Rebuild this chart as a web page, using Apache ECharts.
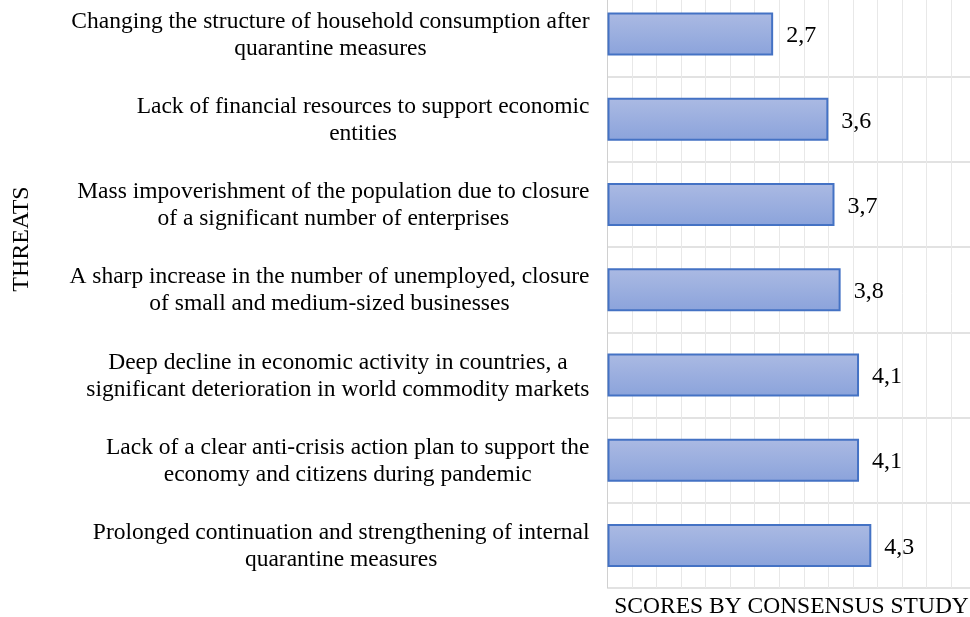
<!DOCTYPE html>
<html>
<head>
<meta charset="utf-8">
<style>html,body{margin:0;padding:0;background:#fff;}#chart{width:970px;height:617px;}</style>
<script src="https://cdn.jsdelivr.net/npm/echarts@6/dist/echarts.min.js"></script>
</head>
<body>
<div id="chart"></div>
<script>
const categories = [
  "Changing the structure of household consumption after\nquarantine measures",
  "Lack of financial resources to support economic\nentities",
  "Mass impoverishment of the population due to closure\nof a significant number of enterprises",
  "A sharp increase in the number of unemployed, closure\nof small and medium-sized businesses",
  "Deep decline in economic activity in countries, a\nsignificant deterioration in world commodity markets",
  "Lack of a clear anti-crisis action plan to support the\neconomy and citizens during pandemic",
  "Prolonged continuation and strengthening of internal\nquarantine measures"
];
const scores = [2.7, 3.6, 3.7, 3.8, 4.1, 4.1, 4.3];
const yAxisTitle = "THREATS";
const xAxisTitle = "SCORES BY CONSENSUS STUDY";

const FONT = "'Liberation Serif', 'Times New Roman', serif";
const chart = echarts.init(document.getElementById('chart'));
chart.setOption({
  animation: false,
  backgroundColor: '#ffffff',
  grid: { left: 607.5, right: -5.6, top: -8.5, bottom: 29, containLabel: false, outerBoundsMode: 'none' },
  xAxis: {
    type: 'value', min: 0, max: 6, interval: 0.4,
    name: xAxisTitle, nameLocation: 'middle', nameGap: 7,
    nameTextStyle: { fontFamily: FONT, fontSize: 23.5, color: '#000' },
    axisLine: { show: false }, axisTick: { show: false }, axisLabel: { show: false },
    splitLine: { show: true, lineStyle: { color: '#e8e8e8', width: 1 } }
  },
  yAxis: {
    type: 'category', inverse: true, data: categories,
    axisLine: { show: true, lineStyle: { color: '#d0d0d0', width: 1 } },
    axisTick: { show: false },
    splitLine: { show: true, lineStyle: { color: '#d9d9d9', width: 1.5 } },
    axisLabel: {
      margin: 18, align: 'right',
      fontFamily: FONT, fontSize: 23.5, color: '#000', lineHeight: 27,
      padding: [2, 0, 0, 0],
      formatter: v => v.split('\n').map(s => '{c|' + s + '}').join('\n'),
      rich: { c: { align: 'center', fontFamily: FONT, fontSize: 23.5, color: '#000', lineHeight: 27 } }
    }
  },
  graphic: [{
    type: 'text', x: 22, y: 239, rotation: Math.PI / 2,
    style: { text: yAxisTitle, font: "24px " + FONT, fill: '#000', align: 'center', verticalAlign: 'middle', textAlign: 'center', textVerticalAlign: 'middle' }
  }],
  series: [{
    type: 'bar', data: scores, barWidth: 43,
    itemStyle: {
      borderColor: '#4472C4', borderWidth: 2,
      color: new echarts.graphic.LinearGradient(0, 0, 0, 1, [
        { offset: 0, color: '#abbae3' },
        { offset: 1, color: '#8ba3db' }
      ])
    },
    label: {
      show: true, position: 'right', distance: 13, offset: [0, 2],
      fontFamily: FONT, fontSize: 24, color: '#000',
      formatter: p => String(p.value).replace('.', ',')
    }
  }]
});
</script>
</body>
</html>
